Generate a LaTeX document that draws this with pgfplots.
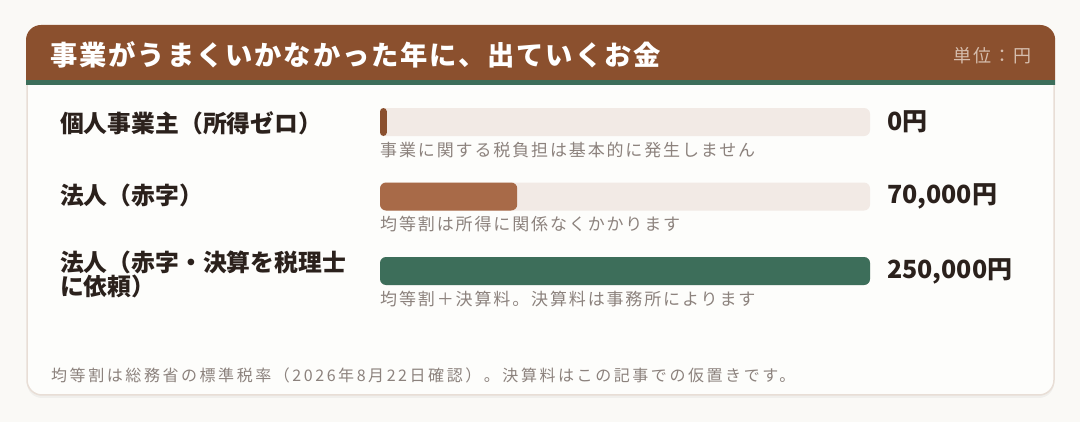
\documentclass[border=0pt]{standalone}
\usepackage{fontspec}
\usepackage{pgfplots}
\pgfplotsset{compat=1.18}

\setmainfont{Noto Sans CJK JP}
\newfontfamily\titlefont{Noto Sans CJK JP}[LetterSpace=7]
\newfontfamily\notefont{Noto Sans CJK JP}[LetterSpace=11]
\newfontfamily\footfont{Noto Sans CJK JP}[LetterSpace=16]

\definecolor{page}{RGB}{250,249,246}
\definecolor{card}{RGB}{253,253,251}
\definecolor{cardline}{RGB}{232,222,214}
\definecolor{head}{RGB}{139,80,46}
\definecolor{stripe}{RGB}{61,110,90}
\definecolor{track}{RGB}{242,234,229}
\definecolor{barA}{RGB}{139,80,46}
\definecolor{barB}{RGB}{168,106,72}
\definecolor{barC}{RGB}{61,110,90}
\definecolor{ink}{RGB}{43,33,28}
\definecolor{note}{RGB}{140,130,125}
\definecolor{unit}{RGB}{214,190,174}

\begin{document}
\begin{tikzpicture}
% page and card
\fill[page] (0,0) rectangle (1080bp,422bp);
\fill[black, opacity=0.04, rounded corners=15bp] (27bp,24bp) rectangle (1054bp,394bp);
\draw[cardline, line width=1.5bp, fill=card, rounded corners=15bp] (27bp,27bp) rectangle (1054bp,396bp);
\begin{scope}
  \clip[rounded corners=15bp] (26bp,26bp) rectangle (1055.2bp,397bp);
  \fill[head] (25bp,342bp) rectangle (1056bp,398bp);
  \fill[stripe] (25bp,337bp) rectangle (1056bp,342bp);
\end{scope}

\node[anchor=west, text=white, inner sep=0, font=\titlefont\bfseries\fontsize{27.3bp}{30bp}\selectfont]
  at (50bp,367bp) {事業がうまくいかなかった年に、出ていくお金};
\node[anchor=east, text=unit, inner sep=0, font=\notefont\fontsize{18bp}{20bp}\selectfont]
  at (1032bp,366bp) {単位：円};

% row labels
\node[anchor=west, text=ink, inner sep=0, font=\bfseries\fontsize{23.8bp}{26bp}\selectfont]
  at (60bp,299bp) {個人事業主（所得ゼロ）};
\node[anchor=west, text=ink, inner sep=0, font=\bfseries\fontsize{23.8bp}{26bp}\selectfont]
  at (60bp,227bp) {法人（赤字）};
\node[anchor=west, text=ink, inner sep=0, align=left, font=\bfseries\fontsize{23.8bp}{22bp}\selectfont]
  at (60bp,148bp) {法人（赤字・決算を税理士\\に依頼）};

\begin{axis}[
    at={(380bp,113.75bp)}, anchor=south west,
    scale only axis,
    width=490bp, height=223.5bp,
    xmin=0, xmax=250000,
    ymin=-0.5, ymax=2.5,
    y dir=reverse,
    enlargelimits=false,
    hide axis, clip=false,
    xbar, bar width=28bp, bar shift=0pt,
]
% track (full scale)
\addplot[fill=track, draw=none, bar shift=0pt, rounded corners=6bp]
  coordinates {(250000,0) (250000,1) (250000,2)};
% 0 yen is shown as a thin minimum-width bar
\addplot[fill=barA, draw=none, bar shift=0pt, rounded corners=3.5bp]
  coordinates {(3500,0)};
\addplot[fill=barB, draw=none, bar shift=0pt, rounded corners=6bp]
  coordinates {(70000,1)};
\addplot[fill=barC, draw=none, bar shift=0pt, rounded corners=6bp]
  coordinates {(250000,2)};

% values
\node[anchor=west, text=ink, inner sep=0, xshift=17bp, font=\bfseries\fontsize{25bp}{28bp}\selectfont]
  at (axis cs:250000,0) {0円};
\node[anchor=west, text=ink, inner sep=0, xshift=17bp, font=\bfseries\fontsize{25bp}{28bp}\selectfont]
  at (axis cs:250000,1) {70,000円};
\node[anchor=west, text=ink, inner sep=0, xshift=17bp, font=\bfseries\fontsize{25bp}{28bp}\selectfont]
  at (axis cs:250000,2) {250,000円};

% notes under bars
\node[anchor=west, text=note, inner sep=0, yshift=-28bp, font=\notefont\fontsize{17bp}{20bp}\selectfont]
  at (axis cs:0,0) {事業に関する税負担は基本的に発生しません};
\node[anchor=west, text=note, inner sep=0, yshift=-28bp, font=\notefont\fontsize{17bp}{20bp}\selectfont]
  at (axis cs:0,1) {均等割は所得に関係なくかかります};
\node[anchor=west, text=note, inner sep=0, yshift=-28bp, font=\notefont\fontsize{17bp}{20bp}\selectfont]
  at (axis cs:0,2) {均等割＋決算料。決算料は事務所によります};
\end{axis}

\node[anchor=west, text=note, inner sep=0, font=\footfont\fontsize{16bp}{19bp}\selectfont]
  at (51bp,47bp) {均等割は総務省の標準税率（2026年8月22日確認）。決算料はこの記事での仮置きです。};
\end{tikzpicture}
\end{document}
